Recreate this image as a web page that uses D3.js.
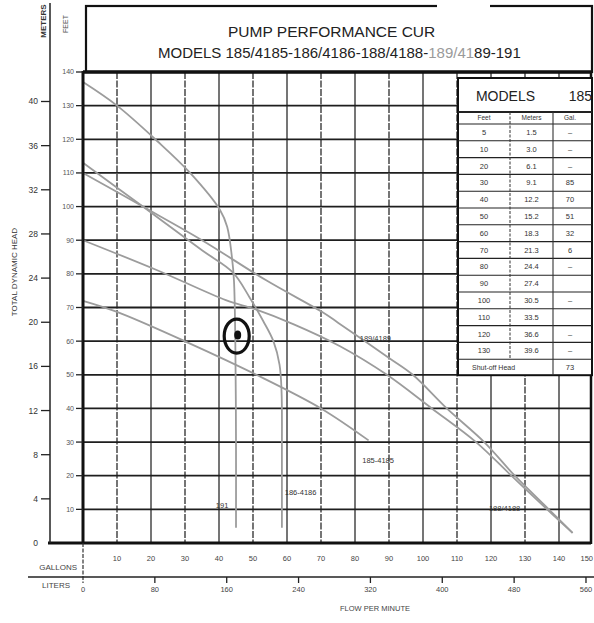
<!DOCTYPE html>
<html>
<head>
<meta charset="utf-8">
<script src="https://cdn.jsdelivr.net/npm/d3@7"></script>
<style>
  html, body { margin: 0; padding: 0; background: #fff; }
  svg { display: block; font-family: "Liberation Sans", Arial, sans-serif; }
</style>
</head>
<body>
<div id="chart"></div>
<script>
// ── Axis ticks ───────────────────────────────────────────────
const GALLON_TICKS = [10, 20, 30, 40, 50, 60, 70, 80, 90, 100, 110, 120, 130, 140, 150];
const LITER_TICKS  = [0, 80, 160, 240, 320, 400, 480, 560];
const FEET_TICKS   = [10, 20, 30, 40, 50, 60, 70, 80, 90, 100, 110, 120, 130, 140];
const METER_TICKS  = [0, 4, 8, 12, 16, 20, 24, 28, 32, 36, 40];

// ── Pump curves: [gallons per minute, feet of head] ──────────
const CURVE_191  = [[0, 137], [10, 130], [21.8, 119.5], [31.5, 110], [40.3, 99], [42.4, 94],
                    [43.8, 85], [44.4, 78], [44.8, 60], [45, 30], [45, 4.5]];
const CURVE_186  = [[0, 113], [17.6, 100], [35, 87], [44, 80.5], [49, 73], [53, 66], [56, 60],
                    [57.8, 53], [58.4, 45], [58.5, 25], [58.5, 4.5]];
const CURVE_189  = [[0, 110], [17.6, 100], [35, 90], [54, 78], [70.6, 68.5], [75, 65.5], [90, 55],
                    [97, 50], [107, 40], [118, 30], [127, 20], [137, 10], [144, 3]];
const CURVE_188  = [[0, 90], [22, 81], [42, 72.2], [50.6, 69.5], [62, 65], [75.6, 58.5], [89.4, 50],
                    [102.6, 40], [115.6, 30], [126, 20], [136.5, 10], [144, 3]];
const CURVE_185  = [[0, 72], [10, 68.7], [31, 59.5], [51, 50], [70, 40], [84, 30.5]];

const CURVES = [
  { name: '191',      points: CURVE_191, label: [40.9, 11.3] },
  { name: '186-4186', points: CURVE_186, label: [64, 14.9] },
  { name: '189/4189', points: CURVE_189, label: [86, 60.9] },
  { name: '188/4188', points: CURVE_188, label: [124, 10.4] },
  { name: '185-4185', points: CURVE_185, label: [86.8, 24.7] },
];

// hand-marked duty point
const DUTY_POINT = [45.5, 61.8];

// ── Model table (model 185) ──────────────────────────────────
const TABLE_FEET   = ['5', '10', '20', '30', '40', '50', '60', '70', '80', '90', '100', '110', '120', '130'];
const TABLE_METERS = ['1.5', '3.0', '6.1', '9.1', '12.2', '15.2', '18.3', '21.3', '24.4', '27.4', '30.5', '33.5', '36.6', '39.6'];
const TABLE_GAL    = ['–', '–', '–', '85', '70', '51', '32', '6', '–', '', '–', '', '–', '–'];
const SHUTOFF_185  = '73';

// ── Layout ───────────────────────────────────────────────────
const W = 594, H = 623;
const PLOT = { left: 83, right: 591, top: 72, bottom: 543 };

const x  = d3.scaleLinear().domain([0, 150]).range([83, 593]);
const xL = d3.scaleLinear().domain([0, 150 * 3.78541]).range([83, 593]);
const y  = d3.scaleLinear().domain([0, 140]).range([PLOT.bottom, PLOT.top]);
const yM = d3.scaleLinear().domain([0, 140 / 3.28084]).range([PLOT.bottom, PLOT.top]);

const svg = d3.select('#chart').append('svg')
  .attr('width', W)
  .attr('height', H);

svg.append('rect').attr('width', W).attr('height', H).attr('fill', '#fff');

// ── Grid ─────────────────────────────────────────────────────
const grid = svg.append('g');

grid.selectAll('line.v')
  .data(GALLON_TICKS.filter(d => d < 150))
  .join('line')
  .attr('class', 'v')
  .attr('x1', d => x(d)).attr('x2', d => x(d))
  .attr('y1', PLOT.top).attr('y2', PLOT.bottom)
  .attr('stroke', '#2b2b2b')
  .attr('stroke-width', 1.3)
  .attr('stroke-dasharray', d => (d / 10) % 2 ? '7,1.5' : null);

grid.selectAll('line.h')
  .data(FEET_TICKS.filter(d => d < 140))
  .join('line')
  .attr('class', 'h')
  .attr('x1', PLOT.left).attr('x2', PLOT.right)
  .attr('y1', d => y(d)).attr('y2', d => y(d))
  .attr('stroke', '#1e1e1e')
  .attr('stroke-width', 1.8);

// ── Curves ───────────────────────────────────────────────────
const line = d3.line()
  .x(d => x(d[0]))
  .y(d => y(d[1]))
  .curve(d3.curveCatmullRom.alpha(0.5));

svg.append('g').selectAll('path')
  .data(CURVES)
  .join('path')
  .attr('d', d => line(d.points))
  .attr('fill', 'none')
  .attr('stroke', '#9c9c9c')
  .attr('stroke-width', 1.8);

svg.append('g').selectAll('text')
  .data(CURVES)
  .join('text')
  .attr('x', d => x(d.label[0]))
  .attr('y', d => y(d.label[1]))
  .attr('dy', '0.35em')
  .attr('text-anchor', 'middle')
  .attr('font-size', 7.5)
  .attr('fill', '#333')
  .text(d => d.name);

// ── Plot frame ───────────────────────────────────────────────
const frame = svg.append('g').attr('stroke', '#111').attr('fill', 'none');
frame.append('line').attr('x1', PLOT.left).attr('x2', PLOT.left).attr('y1', PLOT.top - 1).attr('y2', PLOT.bottom).attr('stroke-width', 3);
frame.append('line').attr('x1', 48).attr('x2', PLOT.right).attr('y1', PLOT.bottom).attr('y2', PLOT.bottom).attr('stroke-width', 3);
frame.append('line').attr('x1', PLOT.right).attr('x2', PLOT.right).attr('y1', PLOT.top).attr('y2', PLOT.bottom + 1).attr('stroke-width', 2.5);

// ── Title box ────────────────────────────────────────────────
svg.append('rect')
  .attr('x', 86).attr('y', 6)
  .attr('width', 506).attr('height', PLOT.top - 6)
  .attr('fill', '#fff')
  .attr('stroke', '#111')
  .attr('stroke-width', 2.2);
svg.append('line').attr('x1', PLOT.left).attr('x2', PLOT.right).attr('y1', PLOT.top).attr('y2', PLOT.top)
  .attr('stroke', '#111').attr('stroke-width', 3.5);
// white scan patch over the top border
svg.append('rect').attr('x', 437).attr('y', 0).attr('width', 53).attr('height', 12).attr('fill', '#fff');

svg.append('text')
  .attr('x', 228).attr('y', 37)
  .attr('font-size', 15.5)
  .attr('fill', '#222')
  .text('PUMP PERFORMANCE CUR');

const t2 = svg.append('text')
  .attr('x', 158).attr('y', 58)
  .attr('font-size', 15)
  .attr('fill', '#222');
t2.append('tspan').text('MODELS 185/4185-186/4186-188/4188-');
t2.append('tspan').attr('fill', '#9a9a9a').text('189/41');
t2.append('tspan').text('89-191');

// ── Left axes (meters + feet) ────────────────────────────────
svg.append('line')
  .attr('x1', 50).attr('x2', 50).attr('y1', 3).attr('y2', PLOT.bottom)
  .attr('stroke', '#222').attr('stroke-width', 1.5);

const mAxis = svg.append('g');
mAxis.selectAll('line')
  .data(METER_TICKS.filter(d => d > 0))
  .join('line')
  .attr('x1', 41).attr('x2', 50)
  .attr('y1', d => yM(d)).attr('y2', d => yM(d))
  .attr('stroke', '#222').attr('stroke-width', 1.3);
mAxis.selectAll('text')
  .data(METER_TICKS)
  .join('text')
  .attr('x', 38)
  .attr('y', d => yM(d))
  .attr('dy', '0.35em')
  .attr('text-anchor', 'end')
  .attr('font-size', 8.5)
  .attr('fill', '#333')
  .text(d => d);

const fAxis = svg.append('g');
fAxis.selectAll('line')
  .data(FEET_TICKS)
  .join('line')
  .attr('x1', 76).attr('x2', PLOT.left)
  .attr('y1', d => y(d)).attr('y2', d => y(d))
  .attr('stroke', '#222').attr('stroke-width', 1.3);
fAxis.selectAll('text')
  .data(FEET_TICKS)
  .join('text')
  .attr('x', 74)
  .attr('y', d => y(d))
  .attr('dy', '0.35em')
  .attr('text-anchor', 'end')
  .attr('font-size', 7)
  .attr('fill', '#555')
  .text(d => d);

svg.append('text')
  .attr('transform', 'translate(46,21) rotate(-90)')
  .attr('text-anchor', 'middle')
  .attr('font-size', 8)
  .attr('font-weight', 'bold')
  .attr('fill', '#333')
  .text('METERS');
svg.append('text')
  .attr('transform', 'translate(68,24) rotate(-90)')
  .attr('text-anchor', 'middle')
  .attr('font-size', 7)
  .attr('fill', '#555')
  .text('FEET');
svg.append('text')
  .attr('transform', 'translate(17,272) rotate(-90)')
  .attr('text-anchor', 'middle')
  .attr('font-size', 8)
  .attr('fill', '#333')
  .text('TOTAL DYNAMIC HEAD');

// ── Bottom axes (gallons + liters) ───────────────────────────
svg.append('line')
  .attr('x1', PLOT.left).attr('x2', PLOT.left).attr('y1', PLOT.bottom).attr('y2', 583)
  .attr('stroke', '#333').attr('stroke-width', 1.2).attr('stroke-dasharray', '4,1.5');
svg.append('line')
  .attr('x1', 28).attr('x2', W).attr('y1', 577).attr('y2', 577)
  .attr('stroke', '#222').attr('stroke-width', 1.6);

svg.append('g').selectAll('text')
  .data(GALLON_TICKS)
  .join('text')
  .attr('x', d => d === 150 ? W - 1 : x(d))
  .attr('y', 561)
  .attr('text-anchor', d => d === 150 ? 'end' : 'middle')
  .attr('font-size', 7.5)
  .attr('fill', '#444')
  .text(d => d);

const lAxis = svg.append('g');
lAxis.selectAll('line')
  .data(LITER_TICKS.filter(d => d > 0))
  .join('line')
  .attr('x1', d => xL(d)).attr('x2', d => xL(d))
  .attr('y1', 577).attr('y2', 583)
  .attr('stroke', '#222').attr('stroke-width', 1.3);
lAxis.selectAll('text')
  .data(LITER_TICKS)
  .join('text')
  .attr('x', d => xL(d))
  .attr('y', 592)
  .attr('text-anchor', 'middle')
  .attr('font-size', 7.5)
  .attr('fill', '#444')
  .text(d => d);

svg.append('text').attr('x', 77).attr('y', 570).attr('text-anchor', 'end')
  .attr('font-size', 8).attr('fill', '#444').text('GALLONS');
svg.append('text').attr('x', 70).attr('y', 588).attr('text-anchor', 'end')
  .attr('font-size', 8).attr('fill', '#444').text('LITERS');
svg.append('text').attr('x', 375).attr('y', 611).attr('text-anchor', 'middle')
  .attr('font-size', 7.5).attr('fill', '#444').text('FLOW PER MINUTE');

// ── Model table ──────────────────────────────────────────────
const TX = [458, 510, 553, 592];
const TY0 = 78, TY1 = 112, TY2 = 124, ROW_H = 16.8;
const rowsEnd = TY2 + TABLE_FEET.length * ROW_H;
const TY_END = rowsEnd + 16;

const table = svg.append('g');
table.append('rect')
  .attr('x', TX[0]).attr('y', TY0)
  .attr('width', TX[3] - TX[0]).attr('height', TY_END - TY0)
  .attr('fill', '#fff').attr('stroke', '#111').attr('stroke-width', 2);

table.selectAll('line.row')
  .data([TY1, TY2, ...TABLE_FEET.map((_, i) => TY2 + (i + 1) * ROW_H)])
  .join('line')
  .attr('class', 'row')
  .attr('x1', TX[0]).attr('x2', TX[3])
  .attr('y1', d => d).attr('y2', d => d)
  .attr('stroke', '#222')
  .attr('stroke-width', (d, i) => i === 0 ? 1.8 : 1.1);

table.append('line').attr('x1', TX[1]).attr('x2', TX[1]).attr('y1', TY1).attr('y2', rowsEnd)
  .attr('stroke', '#333').attr('stroke-width', 1).attr('stroke-dasharray', '3,1.5');
table.append('line').attr('x1', TX[2]).attr('x2', TX[2]).attr('y1', TY1).attr('y2', TY_END)
  .attr('stroke', '#333').attr('stroke-width', 1.1);

table.append('text').attr('x', (TX[0] + TX[2]) / 2).attr('y', TY1 - 11)
  .attr('text-anchor', 'middle').attr('font-size', 14).attr('fill', '#222').text('MODELS');
table.append('text').attr('x', W - 2).attr('y', TY1 - 11)
  .attr('text-anchor', 'end')
  .attr('font-size', 14).attr('fill', '#222').text('185');

const colC = [(TX[0] + TX[1]) / 2, (TX[1] + TX[2]) / 2, 570];
table.selectAll('text.head')
  .data(['Feet', 'Meters', 'Gal.'])
  .join('text')
  .attr('class', 'head')
  .attr('x', (d, i) => colC[i])
  .attr('y', (TY1 + TY2) / 2)
  .attr('dy', '0.35em')
  .attr('text-anchor', 'middle')
  .attr('font-size', 6.5)
  .attr('fill', '#333')
  .text(d => d);

const cols = [TABLE_FEET, TABLE_METERS, TABLE_GAL];
cols.forEach((col, c) => {
  table.append('g').selectAll('text')
    .data(col)
    .join('text')
    .attr('x', colC[c])
    .attr('y', (d, i) => TY2 + (i + 0.5) * ROW_H)
    .attr('dy', '0.35em')
    .attr('text-anchor', 'middle')
    .attr('font-size', 7.5)
    .attr('fill', '#333')
    .text(d => d);
});

table.append('text').attr('x', 472).attr('y', rowsEnd + 8).attr('dy', '0.35em')
  .attr('font-size', 7).attr('fill', '#333').text('Shut-off Head');
table.append('text').attr('x', colC[2]).attr('y', rowsEnd + 8).attr('dy', '0.35em')
  .attr('text-anchor', 'middle').attr('font-size', 7.5).attr('fill', '#333').text(SHUTOFF_185);

// ── Duty point mark ──────────────────────────────────────────
const duty = svg.append('g');
duty.append('ellipse')
  .attr('cx', x(DUTY_POINT[0]) - 1).attr('cy', y(DUTY_POINT[1]) + 1)
  .attr('rx', 12.5).attr('ry', 17)
  .attr('fill', 'none').attr('stroke', '#111').attr('stroke-width', 3.2);
duty.append('ellipse')
  .attr('cx', x(DUTY_POINT[0])).attr('cy', y(DUTY_POINT[1]))
  .attr('rx', 3.5).attr('ry', 4.5)
  .attr('fill', '#111');
</script>
</body>
</html>
